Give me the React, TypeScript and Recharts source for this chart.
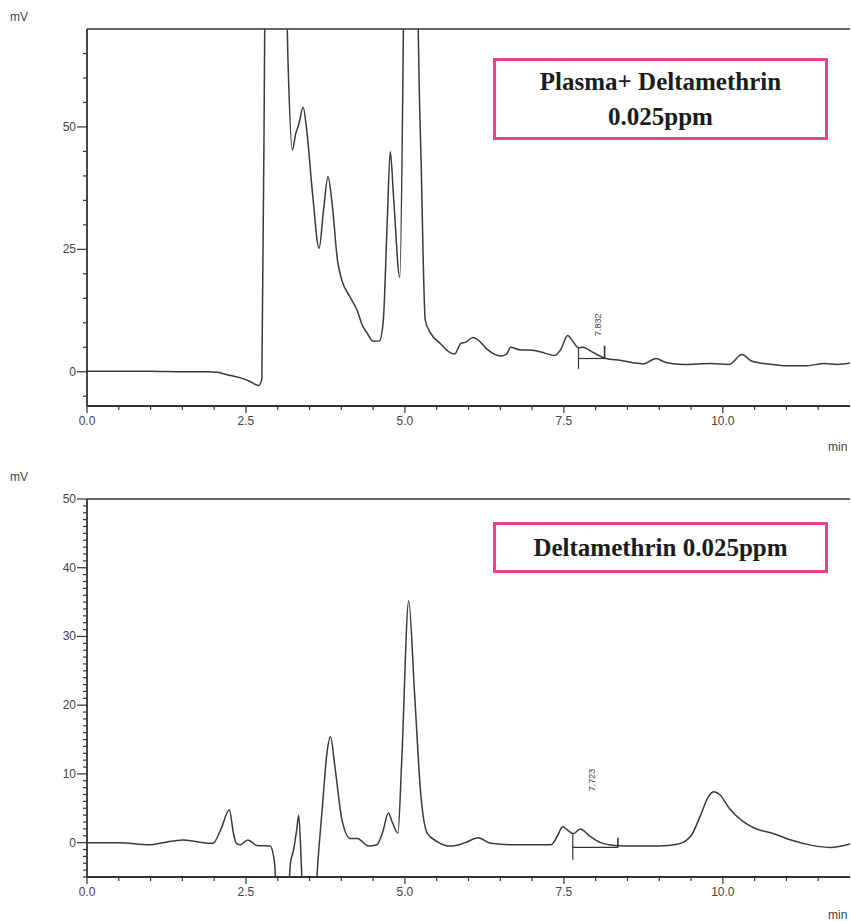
import { LineChart, Line, XAxis, YAxis, ReferenceLine, ReferenceDot } from 'recharts';

// retention time (min) and detector signal (mV)
const topTime = [
  0, 0.5, 1.0, 1.5, 1.9, 2.05, 2.2, 2.4, 2.55, 2.7, 2.75, 2.8, 2.95, 3.1, 3.16, 3.23, 3.28, 3.33, 3.4, 3.45,
  3.55, 3.65, 3.72, 3.79, 3.85, 3.94, 4.01, 4.14, 4.25, 4.33, 4.41, 4.5, 4.6, 4.66, 4.72, 4.77, 4.82, 4.92,
  4.98, 5.1, 5.2, 5.26, 5.32, 5.4, 5.56, 5.7, 5.78, 5.88, 5.95, 6.07, 6.15, 6.3, 6.5, 6.6, 6.66, 6.8, 7.0,
  7.2, 7.35, 7.45, 7.56, 7.65, 7.73, 7.8, 7.95, 8.16, 8.4, 8.6, 8.75, 8.95, 9.1, 9.4, 9.8, 10.1, 10.3, 10.45,
  10.7, 11.0, 11.3, 11.6, 11.8, 12.0,
];
const topSignal = [
  0.1, 0.1, 0.1, 0, 0, -0.1, -0.6, -1.2, -1.9, -2.8, -1.5, 80, 300, 100, 64, 45.3, 48.5, 50.5, 54, 50,
  36, 25.2, 33, 39.8, 35, 22.7, 18.6, 15.2, 12.5, 9.5, 7.8, 6.2, 6.3, 10.5, 30, 45, 36, 19.3,
  75, 300, 80, 40, 10.5, 8, 5.7, 4, 3.6, 5.8, 6, 7, 6.5, 4.5, 3.2, 3.6, 5, 4.5, 4.4,
  3.8, 3.3, 4.5, 7.4, 6.0, 4.9, 5.0, 4.0, 2.7, 2.3, 1.8, 1.6, 2.7, 1.9, 1.5, 1.7, 1.5, 3.5, 2.2,
  1.6, 1.2, 1.2, 1.7, 1.5, 1.8,
];

const bottomTime = [
  0, 0.5, 0.99, 1.2, 1.51, 1.75, 1.98, 2.1, 2.24, 2.3, 2.35, 2.41, 2.53, 2.67, 2.88, 2.95, 3.02, 3.12, 3.2,
  3.25, 3.3, 3.33, 3.37, 3.42, 3.55, 3.63, 3.7, 3.78, 3.83, 3.9, 4.01, 4.14, 4.25, 4.43, 4.56, 4.65, 4.74,
  4.8, 4.89, 4.95, 5.06, 5.15, 5.25, 5.35, 5.5, 5.72, 5.95, 6.15, 6.35, 6.7, 7.0, 7.3, 7.4, 7.48, 7.56,
  7.65, 7.76, 7.9, 8.08, 8.3, 8.6, 9.0, 9.3, 9.5, 9.65, 9.78, 9.86, 9.95, 10.1, 10.3, 10.5, 10.8, 11.1,
  11.4, 11.7, 12.0,
];
const bottomSignal = [
  0, 0, -0.3, 0, 0.4, 0.1, -0.1, 1.8, 4.8, 1.5, -0.1, -0.3, 0.4, -0.4, -0.5, -3, -15, -15, -3,
  -1, 2, 4.0, -3, -15, -15, -3, 5, 13.5, 15.4, 11, 3.3, 0.6, 0.6, -0.5, -0.3, 1.5, 4.3,
  3, 1.4, 12, 35.2, 22, 7, 1.4, 0.2, -0.5, 0, 0.7, -0.1, -0.3, -0.3, -0.3, 1, 2.3, 1.8,
  1.3, 2.0, 1.0, 0, -0.4, -0.5, -0.5, -0.2, 1, 4, 6.8, 7.4, 7, 5, 3.2, 2.1, 1.3, 0.3,
  -0.4, -0.7, -0.2,
];

const xTicks = [0, 0.5, 1, 1.5, 2, 2.5, 3, 3.5, 4, 4.5, 5, 5.5, 6, 6.5, 7, 7.5, 8, 8.5, 9, 9.5, 10, 10.5, 11, 11.5];
const xMajor = [0, 2.5, 5, 7.5, 10];
const topYTicks = [-5, 0, 5, 10, 15, 20, 25, 30, 35, 40, 45, 50, 55, 60, 65];
const topYMajor = [0, 25, 50];
const bottomYTicks = [
  -5, -4, -3, -2, -1, 0, 1, 2, 3, 4, 5, 6, 7, 8, 9, 10, 11, 12, 13, 14, 15, 16, 17, 18, 19, 20,
  21, 22, 23, 24, 25, 26, 27, 28, 29, 30, 31, 32, 33, 34, 35, 36, 37, 38, 39, 40, 41, 42, 43, 44, 45,
  46, 47, 48, 49, 50,
];
const bottomYMajor = [0, 10, 20, 30, 40, 50];

// integration marks of the deltamethrin peak
const topPeak = { rt: '7.832', start: 7.73, end: 8.14, base: 2.7, labelX: 8.03, labelY: 9.6 };
const bottomPeak = { rt: '7.723', start: 7.64, end: 8.35, base: -0.7, labelX: 7.94, labelY: 9.1 };

const topData = topTime.map((t, i) => ({ t, v: topSignal[i] }));
const bottomData = bottomTime.map((t, i) => ({ t, v: bottomSignal[i] }));

const ink = '#333';
const labelFont = 'Liberation Sans, Arial, sans-serif';

function XTick({ x, y, payload }: any) {
  const major = xMajor.includes(payload.value);
  return (
    <g>
      <line x1={x} x2={x} y1={y} y2={y + (major ? 7 : 4)} stroke={ink} strokeWidth={1.2} />
      {major && (
        <text x={x} y={y + 19} textAnchor='middle' fontSize={12} fill='#444' fontFamily={labelFont}>
          {payload.value.toFixed(1)}
        </text>
      )}
    </g>
  );
}

const yTick = (majors: number[]) => ({ x, y, payload }: any) => {
  const major = majors.includes(payload.value);
  return (
    <g>
      <line x1={x - (major ? 10 : 4)} x2={x} y1={y} y2={y} stroke={ink} strokeWidth={1.2} />
      {major && (
        <text x={x - 11} y={y + 4} textAnchor='end' fontSize={12} fill='#444' fontFamily={labelFont}>
          {payload.value}
        </text>
      )}
    </g>
  );
};

const rtLabel = (text: string) => (p: any) => (
  <text
    x={p.cx}
    y={p.cy + 3}
    transform={`rotate(-90 ${p.cx} ${p.cy})`}
    textAnchor='middle'
    fontSize={9}
    fill='#444'
    fontFamily={labelFont}
  >
    {text}
  </text>
);

function Chromatogram({ data, height, top, yDomain, yTicks, yMajor, peak, drop }: any) {
  return (
    <LineChart width={851} height={height} data={data} margin={{ top, right: 1, left: 0, bottom: 0 }}>
      <XAxis
        dataKey='t'
        type='number'
        domain={[0, 12]}
        ticks={xTicks}
        interval={0}
        allowDataOverflow
        height={44}
        tickSize={0}
        tickMargin={0}
        tickLine={false}
        tick={<XTick />}
        axisLine={{ stroke: ink, strokeWidth: 1.8 }}
      />
      <YAxis
        type='number'
        domain={yDomain}
        ticks={yTicks}
        interval={0}
        allowDataOverflow
        width={87}
        tickSize={0}
        tickMargin={0}
        tickLine={false}
        tick={yTick(yMajor)}
        axisLine={{ stroke: ink, strokeWidth: 1.8 }}
      />
      <ReferenceLine y={yDomain[1]} stroke={ink} strokeWidth={1.6} />
      <Line type='monotone' dataKey='v' stroke='#3a3a3a' strokeWidth={1.5} dot={false} isAnimationActive={false} />
      <ReferenceLine
        segment={[{ x: peak.start, y: drop[0] }, { x: peak.start, y: drop[1] }]}
        stroke={ink}
        strokeWidth={1.2}
      />
      <ReferenceLine
        segment={[{ x: peak.start, y: peak.base }, { x: peak.end, y: peak.base }]}
        stroke={ink}
        strokeWidth={1.2}
      />
      <ReferenceLine
        segment={[{ x: peak.end, y: peak.base }, { x: peak.end, y: drop[2] }]}
        stroke={ink}
        strokeWidth={1.6}
      />
      <ReferenceDot x={peak.labelX} y={peak.labelY} r={0} shape={rtLabel(peak.rt)} />
    </LineChart>
  );
}

const boxStyle: any = {
  position: 'absolute',
  left: 493,
  width: 335,
  boxSizing: 'border-box',
  border: '3px solid #e2478d',
  background: '#fff',
  display: 'flex',
  flexDirection: 'column',
  justifyContent: 'center',
  alignItems: 'center',
  fontFamily: 'Liberation Serif, Times New Roman, serif',
  fontWeight: 'bold',
  fontSize: 25,
  color: '#1c1c1c',
  lineHeight: '35px',
};

const smallText: any = {
  position: 'absolute',
  fontFamily: labelFont,
  fontSize: 12,
  color: '#444',
};

export default function App() {
  return (
    <div style={{ position: 'absolute', left: 0, top: 0, width: 851, height: 921, background: '#fff', overflow: 'hidden' }}>
      <div style={{ position: 'absolute', left: 0, top: 0 }}>
        <Chromatogram
          data={topData}
          height={450}
          top={29}
          yDomain={[-7, 70]}
          yTicks={topYTicks}
          yMajor={topYMajor}
          peak={topPeak}
          drop={[4.9, 0.6, 5.3]}
        />
      </div>
      <div style={{ position: 'absolute', left: 0, top: 460 }}>
        <Chromatogram
          data={bottomData}
          height={461}
          top={39}
          yDomain={[-5, 50]}
          yTicks={bottomYTicks}
          yMajor={bottomYMajor}
          peak={bottomPeak}
          drop={[1.2, -2.5, 0.7]}
        />
      </div>
      <div style={{ ...smallText, left: 10, top: 10 }}>mV</div>
      <div style={{ ...smallText, left: 10, top: 470 }}>mV</div>
      <div style={{ ...smallText, left: 828, top: 440 }}>min</div>
      <div style={{ ...smallText, left: 828, top: 908 }}>min</div>
      <div style={{ ...boxStyle, top: 58, height: 82 }}>
        <div>Plasma+ Deltamethrin</div>
        <div>0.025ppm</div>
      </div>
      <div style={{ ...boxStyle, top: 522, height: 51 }}>
        <div>Deltamethrin 0.025ppm</div>
      </div>
    </div>
  );
}
